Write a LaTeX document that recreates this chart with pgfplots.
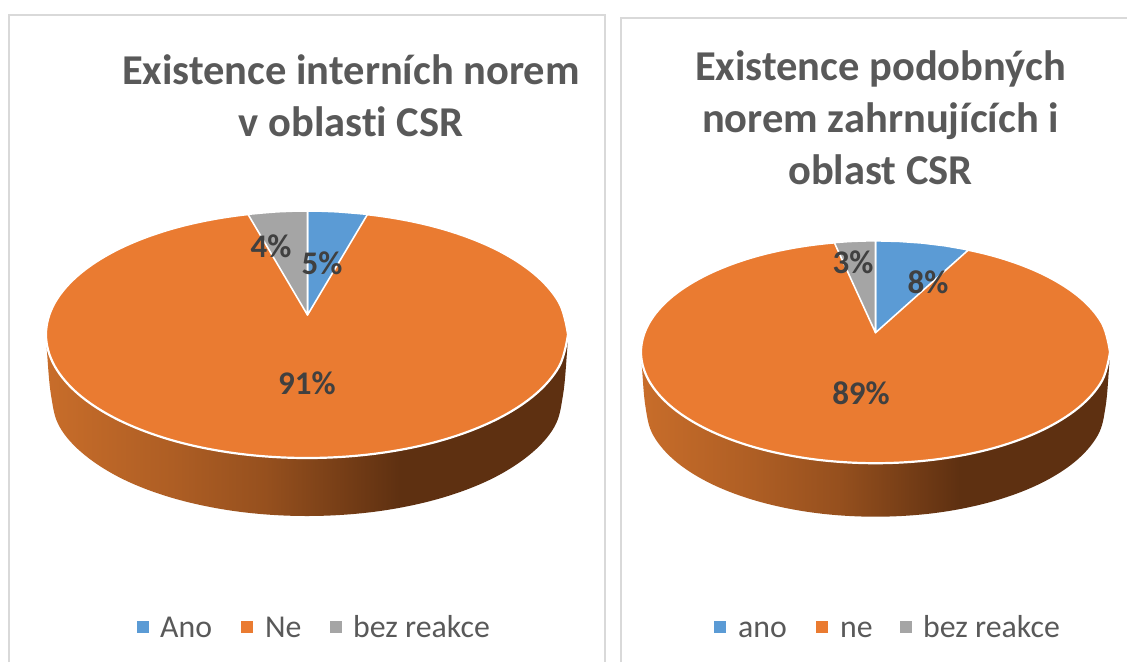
\documentclass[border=0pt]{standalone}
\usepackage{fontspec}
\usepackage{pgfplots}
\pgfplotsset{compat=1.18}
\setmainfont[Ligatures=NoCommon]{Carlito}

\definecolor{ano}{HTML}{5B9BD5}
\definecolor{ne}{HTML}{EA7B31}
\definecolor{bez}{HTML}{A5A5A5}
\definecolor{frame}{HTML}{D9D9D9}
\definecolor{titlecol}{HTML}{595959}
\definecolor{labelcol}{HTML}{404040}
\definecolor{sideA}{HTML}{C86D2A}
\definecolor{sideB}{HTML}{AE5E24}
\definecolor{sideC}{HTML}{96501E}
\definecolor{sideD}{HTML}{5E3011}

% side of the 3D pie, dark towards the right
\pgfdeclarehorizontalshading{pieside}{100bp}{
  color(0bp)=(sideA); color(25bp)=(sideA); color(37bp)=(sideB);
  color(46bp)=(sideC); color(59bp)=(sideD); color(100bp)=(sideD)}

\tikzset{
  ttl/.style={font=\fontsize{42.5}{52}\selectfont\bfseries, text=titlecol, align=center, inner sep=0pt},
  lab/.style={font=\fontsize{33}{33}\selectfont\bfseries, text=labelcol, inner sep=0pt},
  leg/.style={font=\fontsize{31.8}{32}\selectfont, text=titlecol, anchor=base west, inner sep=0pt},
}

\begin{document}
\begin{tikzpicture}
\begin{axis}[
    scale only axis,
    width=1127pt, height=662pt,
    xmin=0, xmax=1127, ymin=0, ymax=662,
    y dir=reverse,
    hide axis,
]
% background and panel frames
\addplot[fill=white, draw=none] coordinates {(0,0)(1127,0)(1127,662)(0,662)} -- cycle;
\addplot[draw=frame, line width=2pt] coordinates {(9,662)(9,14.5)(605,14.5)(605,662)};
\addplot[draw=frame, line width=2pt] coordinates {(621,662)(621,17.5)(1127,17.5)};

% left pie
\addplot[smooth, tension=0.6, shade, shading=pieside, draw=none] coordinates {
  (46,334.5)(47,352)(51,395)(59.7,427)(85.3,455.5)(126,480.6)(179,499.8)(240.7,511.9)(307,516)
  (373.3,511.9)(435,499.8)(488,480.6)(528.7,455.5)(554.3,427)(563,395)(567,352)(568,334.5)} -- cycle;
\addplot[smooth, tension=0.6, fill=ne, draw=white, line width=2.2pt] coordinates {
  (568,334.5)(559.1,366.5)(533,396.3)(491.6,421.8)(437.5,441.5)(374.5,453.8)(307,458)
  (239.5,453.8)(176.5,441.5)(122.4,421.8)(81,396.3)(54.9,366.5)(46,334.5)
  (54.9,302.5)(81,272.8)(122.4,247.2)(176.5,227.5)(239.5,215.2)(307,211)
  (374.5,215.2)(437.5,227.5)(491.6,247.2)(533,272.8)(559.1,302.5)(568,334.5)} -- cycle;
\addplot[fill=ano, draw=white, line width=1.6pt, line join=round] coordinates {
  (307.5,315)(307.5,211)(322,211.2)(337,211.8)(352,213)(367.5,214.3)} -- cycle;
\addplot[fill=bez, draw=white, line width=1.6pt, line join=round] coordinates {
  (307.5,315)(248,214.3)(262,213)(277,211.8)(292,211.2)(307.5,211)} -- cycle;

% right pie
\addplot[smooth, tension=0.6, shade, shading=pieside, draw=none] coordinates {
  (641,352)(642,368)(645.5,407)(653.3,435.4)(676.3,461.9)(712.9,484.6)(760.5,502)(816,513)(875.5,516.7)
  (935,513)(990.5,502)(1038.1,484.6)(1074.7,461.9)(1097.7,435.4)(1105.5,407)(1109,368)(1110,352)} -- cycle;
\addplot[smooth, tension=0.6, fill=ne, draw=white, line width=2.2pt] coordinates {
  (1110,352)(1102,380.8)(1078.6,407.6)(1041.3,430.6)(992.8,448.3)(936.2,459.4)(875.5,463.2)
  (814.8,459.4)(758.2,448.3)(709.7,430.6)(672.4,407.6)(649,380.8)(641,352)
  (649,323.2)(672.4,296.4)(709.7,273.4)(758.2,255.7)(814.8,244.6)(875.5,240.8)
  (936.2,244.6)(992.8,255.7)(1041.3,273.4)(1078.6,296.4)(1102,323.2)(1110,352)} -- cycle;
\addplot[fill=ano, draw=white, line width=1.6pt, line join=round] coordinates {
  (875.5,332.7)(875.5,240.8)(899,241.4)(922,243)(945,245.8)(968.4,249.9)} -- cycle;
\addplot[fill=bez, draw=white, line width=1.6pt, line join=round] coordinates {
  (875.5,332.7)(834.3,242.6)(848,241.6)(862,241)(875.5,240.8)} -- cycle;

% legend squares
\addplot[fill=ano, draw=none] coordinates {(137,621)(149,621)(149,633)(137,633)} -- cycle;
\addplot[fill=ne, draw=none] coordinates {(241,621)(253,621)(253,633)(241,633)} -- cycle;
\addplot[fill=bez, draw=none] coordinates {(330,621)(342,621)(342,633)(330,633)} -- cycle;
\addplot[fill=ano, draw=none] coordinates {(714,621)(726,621)(726,633)(714,633)} -- cycle;
\addplot[fill=ne, draw=none] coordinates {(816,621)(828,621)(828,633)(816,633)} -- cycle;
\addplot[fill=bez, draw=none] coordinates {(900,621)(912,621)(912,633)(900,633)} -- cycle;

% titles
\node[ttl] at (axis cs:351,96) {Existence interních norem\\v oblasti CSR};
\node[ttl] at (axis cs:880.5,118) {Existence podobných\\norem zahrnujících i\\oblast CSR};

% data labels
\node[lab] at (axis cs:322,263) {5\%};
\node[lab] at (axis cs:271,246) {4\%};
\node[lab] at (axis cs:307,383) {91\%};
\node[lab] at (axis cs:928,282) {8\%};
\node[lab] at (axis cs:853,262) {3\%};
\node[lab] at (axis cs:861,393) {89\%};

% legend text
\node[leg] at (axis cs:160,637) {Ano};
\node[leg] at (axis cs:265,637) {Ne};
\node[leg] at (axis cs:353,637) {bez reakce};
\node[leg] at (axis cs:738,637) {ano};
\node[leg] at (axis cs:840,637) {ne};
\node[leg] at (axis cs:923,637) {bez reakce};
\end{axis}
\end{tikzpicture}
\end{document}
